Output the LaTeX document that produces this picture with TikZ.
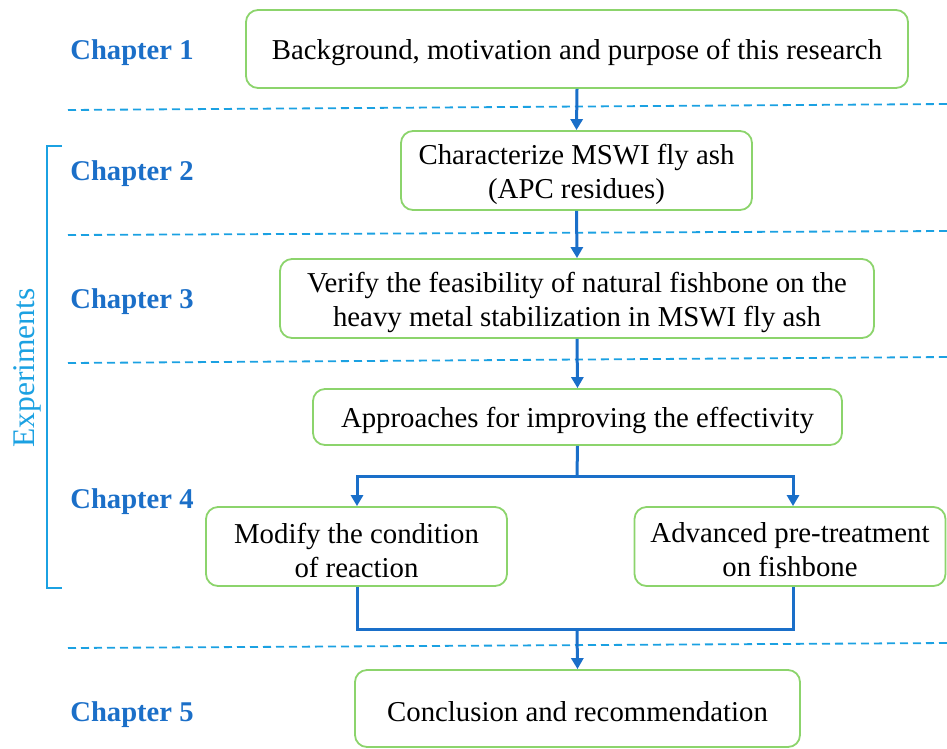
\documentclass[tikz,border=0pt]{standalone}
\usepackage{fontspec}
\setmainfont{Liberation Serif}
\usetikzlibrary{arrows.meta}
\definecolor{boxgreen}{HTML}{8CD46C}
\definecolor{chapblue}{HTML}{1B6FC8}
\definecolor{dashblue}{HTML}{1BA1E2}
\definecolor{arrblue}{HTML}{1A6FC9}
\begin{document}
\begin{tikzpicture}[x=1pt,y=-1pt,
  box/.style={draw=boxgreen, line width=1.8pt, rounded corners=12pt, fill=white, inner sep=0pt},
  boxtext/.style={yshift=-3.5pt, align=center, inner sep=0pt, font=\fontsize{28.8}{34}\selectfont},
  chap/.style={text=chapblue, font=\fontsize{28.6}{32}\selectfont\bfseries, inner sep=0pt},
  sep/.style={draw=dashblue, line width=1.8pt, dash pattern=on 8pt off 5pt},
  flow/.style={draw=arrblue, line width=3pt},
  arr/.style={flow, -{Triangle[length=11pt,width=12pt]}}]
\useasboundingbox (0,0) rectangle (947,748);
% separators
\draw[sep] (68,110) -- (947,104);
\draw[sep] (68,235) -- (947,231);
\draw[sep] (68,363) -- (947,357);
\draw[sep] (68,648) -- (947,643);
% bracket
\draw[draw=dashblue, line width=2.2pt] (62,146) -- (47,146) -- (47,588) -- (62,588);
\node[rotate=90, text=dashblue, font=\fontsize{31.5}{34}\selectfont, inner sep=0pt] (exp) at (27,368) {Experiments};
% chapter labels
\node[chap] (c1) at (132,53) {Chapter 1};
\node[chap] (c2) at (132,174) {Chapter 2};
\node[chap] (c3) at (132,302) {Chapter 3};
\node[chap] (c4) at (132,502) {Chapter 4};
\node[chap] (c5) at (132,715) {Chapter 5};
% boxes
\node[box, minimum width=662pt, minimum height=78pt, label={[boxtext]center:Background, motivation and purpose of this research}] (b1) at (577,49) {};
\node[box, minimum width=351pt, minimum height=79pt, label={[boxtext]center:Characterize MSWI fly ash\\(APC residues)}] (b2) at (576.5,170.5) {};
\node[box, minimum width=594pt, minimum height=79pt, label={[boxtext]center:Verify the feasibility of natural fishbone on the\\heavy metal stabilization in MSWI fly ash}] (b3) at (577,298.5) {};
\node[box, minimum width=529pt, minimum height=56pt, label={[boxtext]center:Approaches for improving the effectivity}] (b4) at (577.5,417) {};
\node[box, minimum width=301pt, minimum height=79pt, label={[boxtext]center:Modify the condition\\of reaction}] (b5a) at (356.5,546.5) {};
\node[box, minimum width=311pt, minimum height=79pt, label={[boxtext]center:Advanced pre-treatment\\on fishbone}] (b5b) at (790,546.5) {};
\node[box, minimum width=445pt, minimum height=77pt, label={[boxtext]center:Conclusion and recommendation}] (b6) at (577.5,708.5) {};
% arrows
\draw[arr] (b1.south) -- (b2.north);
\draw[arr] (b2.south) -- (b3.north);
\draw[arr] (b3.south) -- (b4.north);
\coordinate (split) at (577,476);
\coordinate (merge) at (577,629);
\draw[flow] (b4.south) -- (split);
\draw[arr] (split) -| ([xshift=0.5pt]b5a.north);
\draw[arr] (split) -| ([xshift=3pt]b5b.north);
\draw[flow, line join=miter] ([xshift=0.5pt]b5a.south) |- (merge) -| ([xshift=3pt]b5b.south);
\draw[arr] (merge) -- (b6.north);
\end{tikzpicture}
\end{document}
